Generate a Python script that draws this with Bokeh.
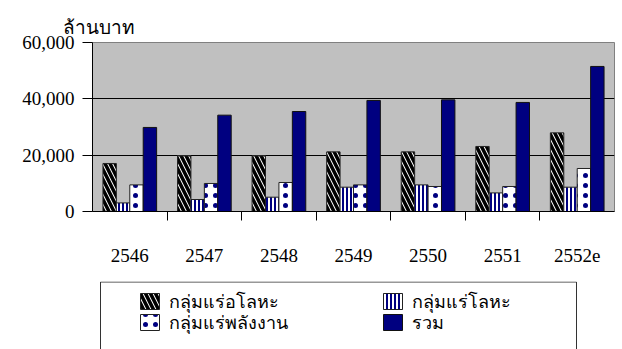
from bokeh.plotting import figure
from bokeh.layouts import column
from bokeh.models import (ColumnDataSource, FactorRange, Range1d, CategoricalAxis,
                          FixedTicker, NumeralTickFormatter)
from bokeh.core.properties import value
from bokeh.transform import dodge
from bokeh.embed import file_html
from bokeh.resources import INLINE

# Mining output value, million baht
years = ["2546", "2547", "2548", "2549", "2550", "2551", "2552e"]
non_metallic = [17050, 19750, 19750, 21170, 21170, 23090, 27920]
metallic = [3050, 4260, 5080, 8630, 9450, 6600, 8630]
energy = [9450, 9950, 10300, 9450, 8880, 8880, 15270]
total = [29840, 34200, 35500, 39430, 39640, 38720, 51500]

labels = ["กลุ่มแร่อโลหะ", "กลุ่มแร่โลหะ", "กลุ่มแร่พลังงาน", "รวม"]

SERIF = "Liberation Serif"
NAVY = "#000080"

# bar styles shared by the chart and the key below it
styles = [
    dict(fill_color="white", line_color="#222222",
         hatch_pattern="left_diagonal_line", hatch_color="black",
         hatch_weight=3.5, hatch_scale=10),
    dict(fill_color="white", line_color="#222222",
         hatch_pattern="vertical_line", hatch_color=NAVY,
         hatch_weight=2, hatch_scale=4),
    dict(fill_color="white", line_color="#222222",
         hatch_pattern="dot", hatch_color=NAVY,
         hatch_weight=6, hatch_scale=10),
    dict(fill_color=NAVY, line_color="#111111"),
]

src = ColumnDataSource(dict(year=years, nm=non_metallic, m=metallic,
                            e=energy, t=total))

p = figure(x_range=FactorRange(*years, range_padding=0),
           y_range=Range1d(0, 60000),
           width=622, height=279, output_backend="svg", toolbar_location=None,
           min_border_left=92, min_border_right=8, min_border_top=42,
           min_border_bottom=68)

p.background_fill_color = "#C0C0C0"
p.border_fill_color = "white"
p.outline_line_color = "#808080"
p.outline_line_width = 1

w = 0.18
offsets = [-0.27, -0.09, 0.09, 0.27]
for col, off, st in zip(["nm", "m", "e", "t"], offsets, styles):
    p.vbar(x=dodge("year", off, range=p.x_range), top=col,
           width=w, source=src, **st)

# y axis
yax = p.yaxis[0]
yax.ticker = FixedTicker(ticks=[0, 20000, 40000, 60000])
yax.formatter = NumeralTickFormatter(format="0,0")
yax.major_label_text_font = SERIF
yax.major_label_text_font_size = "19px"
yax.major_label_text_color = "black"
yax.axis_line_color = "black"
yax.major_tick_line_color = "black"
yax.major_tick_out = 10
yax.major_tick_in = 0
yax.minor_tick_line_color = None
yax.major_label_standoff = 8

p.xgrid.grid_line_color = None
p.ygrid.ticker = FixedTicker(ticks=[20000, 40000])
p.ygrid.grid_line_color = "black"
p.ygrid.grid_line_alpha = 1

# category labels, without tick marks
xax = p.xaxis[0]
xax.axis_line_color = None
xax.major_tick_line_color = None
xax.major_label_text_font = SERIF
xax.major_label_text_font_size = "19px"
xax.major_label_text_color = "black"
xax.major_label_standoff = 22

# tick marks at the boundaries between categories: one factor per edge,
# pulled in by half a factor so the first and last sit on the frame
edges = ["e%d" % i for i in range(len(years) + 1)]
p.extra_x_ranges = {"edges": FactorRange(*edges, range_padding=-0.5,
                                         range_padding_units="absolute")}
edge_axis = CategoricalAxis(x_range_name="edges",
                            axis_line_color="black",
                            major_tick_line_color="black",
                            major_tick_out=9, major_tick_in=0,
                            major_label_text_color=None,
                            major_label_text_font_size="8px",
                            major_label_standoff=0)
p.add_layout(edge_axis, "below")
p.below = [edge_axis, xax]

# unit caption
p.title.text = "ล้านบาท"
p.title.text_font = SERIF
p.title.text_font_size = "19px"
p.title.text_font_style = "normal"
p.title.text_color = "black"
p.title.align = "left"
p.title.offset = -30
p.title.standoff = 10

# key panel: one data unit per pixel, frame lined up with the chart above
KW, KH = 522, 68
k = figure(x_range=Range1d(0, KW), y_range=Range1d(0, KH),
           width=622, height=KH + 2, output_backend="svg",
           toolbar_location=None, min_border_left=92, min_border_right=8,
           min_border_top=2, min_border_bottom=0)
k.axis.visible = False
k.grid.grid_line_color = None
k.outline_line_color = None
k.background_fill_color = "white"
k.border_fill_color = "white"

# boxed key, open at the bottom of the page
k.quad(left=8, right=484, bottom=-10, top=KH - 0.5,
       fill_color="white", line_color="#333333", line_width=1)

col_x = [48, 291]
row_y = [48, 27]
sw, sh = 19, 16
for i, (lab, st) in enumerate(zip(labels, styles)):
    x0 = col_x[i % 2]
    yc = row_y[i // 2]
    k.quad(left=x0, right=x0 + sw, bottom=yc - sh / 2, top=yc + sh / 2, **st)
    k.text(x=[x0 + sw + 9], y=[yc], text=[lab], text_baseline="middle",
           text_font=value(SERIF), text_font_size="18px", text_color="black")

open("out.html", "w").write(file_html(column(p, k, spacing=0), INLINE))
